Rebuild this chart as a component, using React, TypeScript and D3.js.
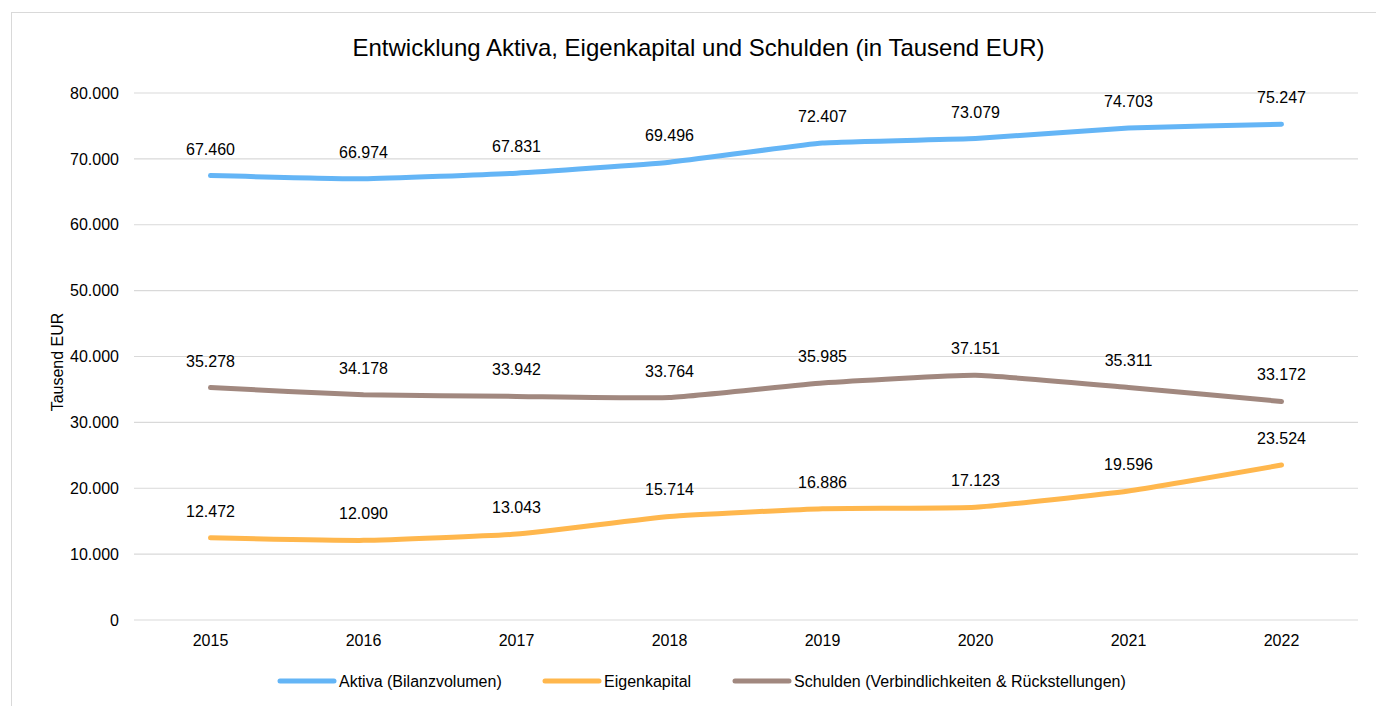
import React from "react";
import * as d3 from "d3";

const years = ["2015", "2016", "2017", "2018", "2019", "2020", "2021", "2022"];
const aktiva = [67460, 66974, 67831, 69496, 72407, 73079, 74703, 75247];
const eigenkapital = [12472, 12090, 13043, 15714, 16886, 17123, 19596, 23524];
const schulden = [35278, 34178, 33942, 33764, 35985, 37151, 35311, 33172];
const yTicks = [0, 10000, 20000, 30000, 40000, 50000, 60000, 70000, 80000];
const seriesNames = ["Aktiva (Bilanzvolumen)", "Eigenkapital", "Schulden (Verbindlichkeiten & Rückstellungen)"];
const seriesColors = ["#64B5F6", "#FFB74D", "#A1887F"];

const W = 1376;
const H = 706;
const FONT = "Liberation Sans, Arial, sans-serif";

const fmt = (v: number) => {
  const s = Math.round(v).toString();
  return s.replace(/\B(?=(\d{3})+(?!\d))/g, ".");
};

export default function App() {
  const x = d3.scaleBand<string>().domain(years).range([134, 1358]);
  const y = d3.scaleLinear().domain([0, 80000]).range([620, 93]);
  const cx = (d: string) => (x(d) as number) + x.bandwidth() / 2;
  const line = d3
    .line<number>()
    .x((_, i) => cx(years[i]))
    .y((v) => y(v))
    .curve(d3.curveCardinal.tension(0.6));
  const series = [aktiva, eigenkapital, schulden];
  const legendX = [280, 545, 735];

  return (
    <svg
      width={W}
      height={H}
      style={{ position: "absolute", left: 0, top: 0, background: "#fff" }}
      fontFamily={FONT}
    >
      <rect x={11.5} y={12.5} width={W + 20} height={H + 20} fill="#fff" stroke="#d9d9d9" strokeWidth={1} />
      <text x={698.5} y={55.5} textAnchor="middle" fontSize={24} fill="#000">
        Entwicklung Aktiva, Eigenkapital und Schulden (in Tausend EUR)
      </text>
      {yTicks.map((t) => (
        <g key={t}>
          <line x1={134} x2={1358} y1={y(t)} y2={y(t)} stroke="#d9d9d9" strokeWidth={1.2} />
          <text x={119} y={y(t) + 5.7} textAnchor="end" fontSize={16} fill="#000">
            {fmt(t)}
          </text>
        </g>
      ))}
      <text
        transform={`translate(62.5,362) rotate(-90)`}
        textAnchor="middle"
        fontSize={16}
        fill="#000"
      >
        Tausend EUR
      </text>
      {years.map((yr) => (
        <text key={yr} x={cx(yr)} y={646} textAnchor="middle" fontSize={16} fill="#000">
          {yr}
        </text>
      ))}
      {series.map((s, si) => (
        <path
          key={si}
          d={line(s) as string}
          fill="none"
          stroke={seriesColors[si]}
          strokeWidth={5}
          strokeLinecap="round"
          strokeLinejoin="round"
        />
      ))}
      {series.map((s, si) =>
        s.map((v, i) => (
          <text
            key={`${si}-${i}`}
            x={cx(years[i])}
            y={y(v) - 21}
            textAnchor="middle"
            fontSize={16}
            fill="#000"
          >
            {fmt(v)}
          </text>
        ))
      )}
      {seriesNames.map((n, i) => (
        <g key={n}>
          <line
            x1={legendX[i]}
            x2={legendX[i] + 54}
            y1={681}
            y2={681}
            stroke={seriesColors[i]}
            strokeWidth={5}
            strokeLinecap="round"
          />
          <text x={legendX[i] + 59} y={686.5} fontSize={16} fill="#000">
            {n}
          </text>
        </g>
      ))}
    </svg>
  );
}
